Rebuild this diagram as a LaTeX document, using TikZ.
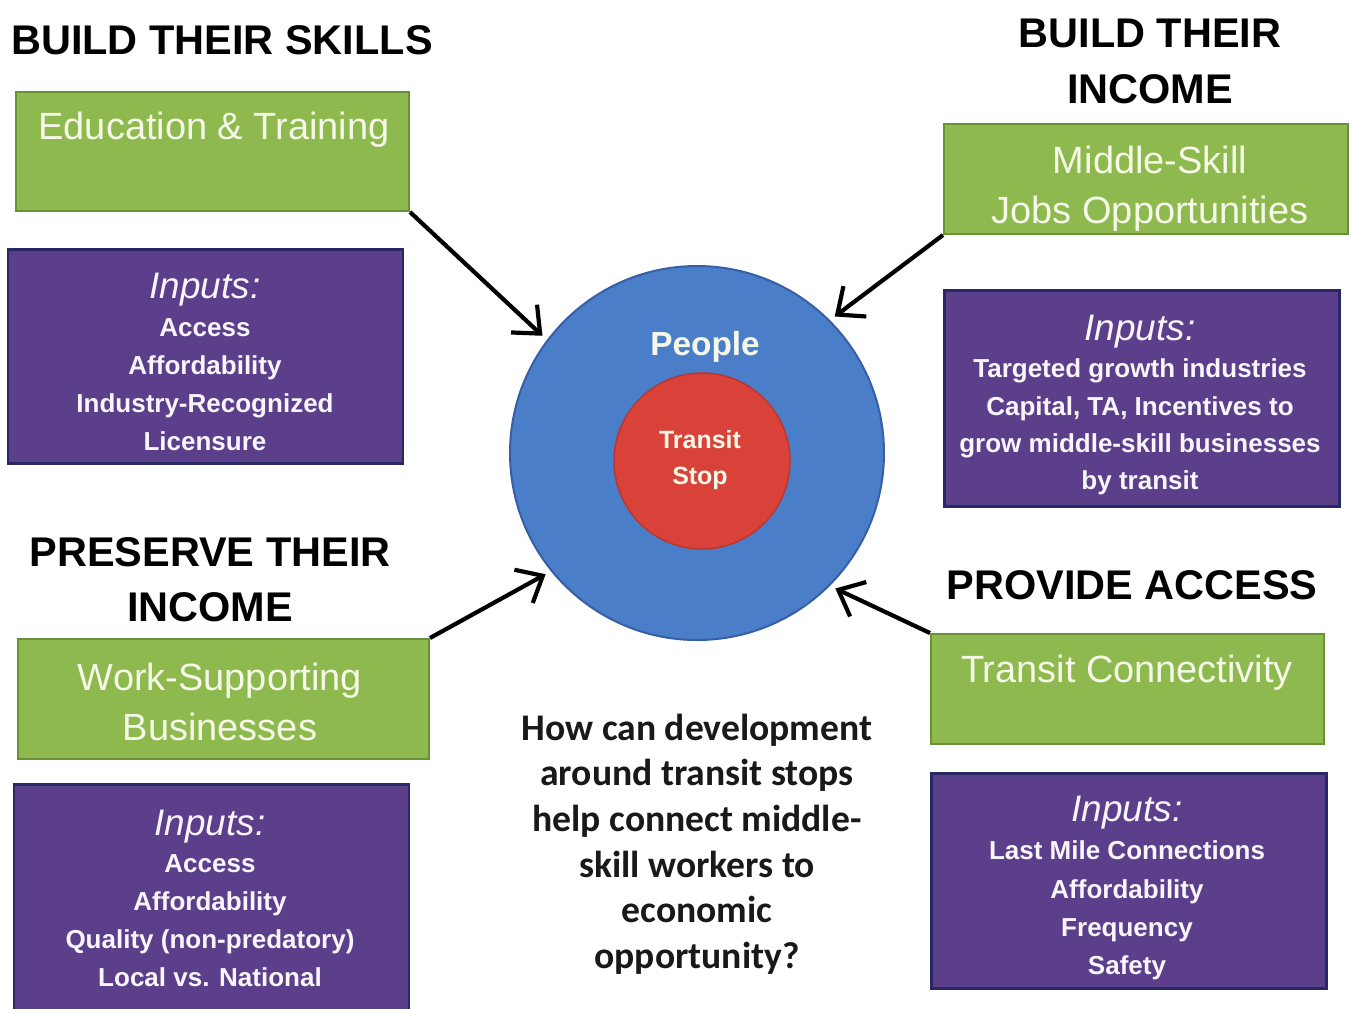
\documentclass[tikz,border=0pt]{standalone}
\usepackage{fontspec}
\setmainfont{Liberation Sans}
\newfontfamily\qfont{Carlito}
\usetikzlibrary{arrows.meta}
\definecolor{grnfill}{RGB}{141,185,78}
\definecolor{grnline}{RGB}{104,145,58}
\definecolor{purfill}{RGB}{92,63,138}
\definecolor{purline}{RGB}{40,40,100}
\definecolor{bluefill}{RGB}{74,126,201}
\definecolor{blueline}{RGB}{55,95,165}
\definecolor{redfill}{RGB}{217,66,56}
\definecolor{redline}{RGB}{185,55,50}
\definecolor{gtxt}{RGB}{246,248,232}
\definecolor{ptxt}{RGB}{248,245,252}
\newcommand{\inp}{{\fontsize{10.5}{10.8}\selectfont\mdseries\itshape Inputs:}}
\begin{document}
\begin{tikzpicture}[x=0.1mm,y=-0.1mm,
  titletext/.style={font=\fontsize{11.8}{15.8}\selectfont\bfseries, align=center, inner sep=0, text=black},
  gbox/.style={draw=grnline, fill=grnfill, line width=0.2mm, anchor=north west, inner sep=0},
  pbox/.style={draw=purline, fill=purfill, line width=0.25mm, anchor=north west, inner sep=0},
  gtext/.style={font=\fontsize{10.8}{13.7}\selectfont, text=gtxt, align=center, inner sep=0},
  ptext/.style={font=\fontsize{7.4}{10.8}\selectfont\bfseries, text=ptxt, align=center, inner sep=0},
  arr/.style={-{Straight Barb[length=2.2mm,width=3.8mm]}, line width=0.42mm, shorten >=0.6mm}]
\useasboundingbox[fill=white] (0,0) rectangle (1349,1008);

% titles
\node[titletext] (t1) at (222,40) {BUILD THEIR SKILLS};
\node[titletext] (t2) at (1150,61.5) {BUILD THEIR\\INCOME};
\node[titletext] (t3) at (210,579.5) {PRESERVE THEIR\\INCOME};
\node[titletext] (t4) at (1132,585) {PROVIDE ACCESS};

% green boxes
\node[gbox, minimum width=39.3mm, minimum height=11.9mm] (g1) at (15,91) {};
\node[gbox, minimum width=40.4mm, minimum height=11.0mm] (g2) at (943,123) {};
\node[gbox, minimum width=41.1mm, minimum height=12.0mm] (g3) at (17,638) {};
\node[gbox, minimum width=39.3mm, minimum height=11.0mm] (g4) at (930,633) {};

\node[gtext] (g1t) at (214,130) {Education \& Training};
\node[gtext, font=\fontsize{10.8}{14.2}\selectfont] (g2t) at (1150,189) {Middle-Skill\\Jobs Opportunities};
\node[gtext, font=\fontsize{10.8}{14.2}\selectfont] (g3t) at (220,702) {Work-Supporting\\Businesses};
\node[gtext] (g4t) at (1127,673) {Transit Connectivity};

% purple boxes
\node[pbox, minimum width=39.5mm, minimum height=21.4mm] (p1) at (7,248) {};
\node[pbox, minimum width=39.5mm, minimum height=21.6mm] (p2) at (943,289) {};
\node[pbox, minimum width=39.5mm, minimum height=23.0mm] (p3) at (13,783) {};
\node[pbox, minimum width=39.5mm, minimum height=21.5mm] (p4) at (930,772) {};

\node[ptext] (p1t) at (205,362) {\inp\\Access\\Affordability\\Industry-Recognized\\Licensure};
\node[ptext, font=\fontsize{7.4}{10.6}\selectfont\bfseries] (p2t) at (1140,405) {\inp\\Targeted growth industries\\Capital, TA, Incentives to\\grow middle-skill businesses\\by transit};
\node[ptext, font=\fontsize{7.4}{10.75}\selectfont\bfseries] (p3t) at (210,898) {\inp\\Access\\Affordability\\Quality (non-predatory)\\Local vs. National};
\node[ptext, font=\fontsize{7.4}{10.9}\selectfont\bfseries] (p4t) at (1127,888) {\inp\\Last Mile Connections\\Affordability\\Frequency\\Safety};

% circles
\node[circle, draw=blueline, fill=bluefill, line width=0.2mm, minimum size=37.4mm, inner sep=0] (blue) at (697,453) {};
\node[circle, draw=redline, fill=redfill, line width=0.15mm, minimum size=17.6mm, inner sep=0] (red) at (702,461) {};
\node[font=\fontsize{9.5}{11}\selectfont\bfseries, text=gtxt, inner sep=0] (people) at (705,347) {People};
\node[font=\fontsize{7.1}{10.5}\selectfont\bfseries, text=gtxt, align=center, inner sep=0] (stop) at (700,460) {Transit\\Stop};

% arrows
\draw[arr] (g1.south east) -- (blue.143);
\draw[arr] (g2.south west) -- (blue.45);
\draw[arr] (g3.north east) -- (blue.219);
\draw[arr] (g4.north west) -- (blue.315);

% question
\node[font=\qfont\fontsize{10.7}{12.95}\selectfont\bfseries, align=center, inner sep=0, text={rgb,255:red,25;green,25;blue,25}] (q) at (697,844)
  {How can development\\around transit stops\\help connect middle-\\skill workers to\\economic\\opportunity?};
\end{tikzpicture}
\end{document}
